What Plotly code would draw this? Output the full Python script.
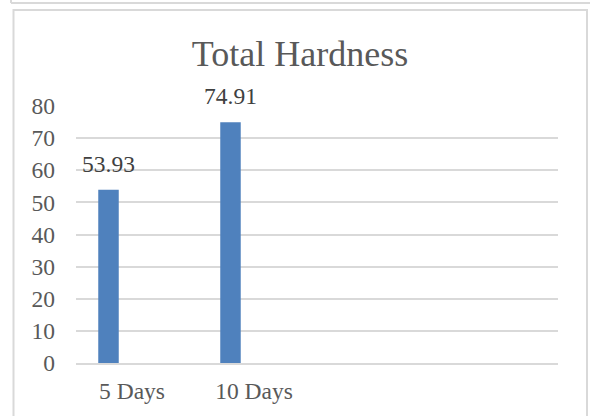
import plotly.graph_objects as go

categories = ["5 Days", "10 Days"]
values = [53.93, 74.91]
value_labels = ["53.93", "74.91"]
y_ticks = [0, 10, 20, 30, 40, 50, 60, 70, 80]

W, H = 590, 416
L, R, T, B = 76, 32, 106, 53
pw, ph = W - L - R, H - T - B

def px(x):
    return (x - L) / pw

def py(y):
    return (H - B - y) / ph

x_range = [-0.459, 3.492]
bar_width = 0.168
bar_offset = -0.2766
FONT = "Liberation Serif"

fig = go.Figure()
fig.add_trace(go.Bar(
    x=categories, y=values,
    width=bar_width, offset=bar_offset,
    marker=dict(color="#4F81BD", line=dict(width=0)),
    hoverinfo="x+y",
))

for i, (v, t) in enumerate(zip(values, value_labels)):
    fig.add_annotation(
        x=i + bar_offset + bar_width / 2, y=v, xref="x", yref="y",
        text=t, showarrow=False, yanchor="bottom", yshift=11,
        font=dict(family=FONT, size=23.5, color="#404040"),
    )

gray = "#D9D9D9"
shapes = [
    dict(type="rect", xref="paper", yref="paper",
         x0=px(13.5), x1=px(587), y0=py(420), y1=py(10),
         line=dict(color=gray, width=2), fillcolor="rgba(0,0,0,0)", layer="below"),
    dict(type="line", xref="paper", yref="paper",
         x0=px(11), x1=px(592), y0=py(3), y1=py(3),
         line=dict(color=gray, width=2)),
    dict(type="line", xref="paper", yref="paper",
         x0=px(11), x1=px(11), y0=py(-2), y1=py(3),
         line=dict(color=gray, width=2)),
]

fig.update_layout(
    width=W, height=H,
    margin=dict(l=L, r=R, t=T, b=B, pad=0, autoexpand=False),
    paper_bgcolor="white", plot_bgcolor="white",
    showlegend=False,
    shapes=shapes,
    title=dict(text="Total Hardness", x=300 / W, xanchor="center",
               y=1 - 41 / H, yanchor="top", yref="container", automargin=False,
               font=dict(family=FONT, size=36, color="#595959")),
    font=dict(family=FONT, size=23.5, color="#595959"),
    xaxis=dict(
        type="category", range=x_range, automargin=False,
        showgrid=False, showline=True, linecolor=gray, linewidth=1.5,
        ticks="", ticklabelstandoff=6, zeroline=False,
        tickfont=dict(family=FONT, size=23.5, color="#595959"),
    ),
    yaxis=dict(
        range=[0, 80.0001], tickvals=y_ticks, automargin=False,
        showgrid=True, gridcolor=gray, gridwidth=1.5,
        zeroline=False, showline=False, ticks="",
        ticklabelstandoff=20,
        tickfont=dict(family=FONT, size=23.5, color="#595959"),
    ),
)

fig.write_html("out.html", post_script="document.body.style.margin='0';",
               config={"displayModeBar": False})
